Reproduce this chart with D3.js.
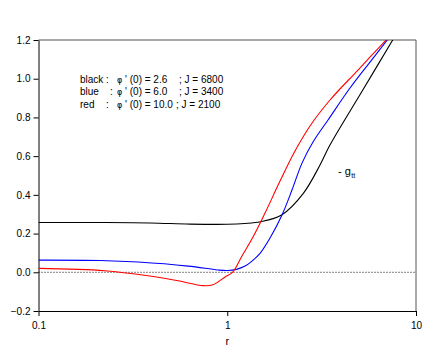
<!DOCTYPE html>
<html><head><meta charset="utf-8">
<script src="https://cdn.jsdelivr.net/npm/d3@7"></script>
<style>
body{margin:0;background:#fff;}
text{font-family:"Liberation Sans",Arial,sans-serif;}
</style></head>
<body><svg id="c" width="436" height="357"></svg>
<script>
// ---- data ----
const blackR = [0.1, 0.212, 0.39, 0.635, 1.0, 1.24, 1.50, 1.94, 2.53, 3.10, 3.50, 5.15, 7.58, 8.2];
const blackV = [0.257, 0.257, 0.255, 0.249, 0.248, 0.252, 0.261, 0.296, 0.408, 0.554, 0.657, 0.931, 1.205, 1.26];
const blueR = [0.1, 0.212, 0.337, 0.62, 0.89, 1.0, 1.12, 1.242, 1.352, 1.492, 1.685, 1.95, 2.203, 2.489, 2.847, 3.42, 4.47, 5.706, 7.107, 7.74];
const blueV = [0.063, 0.061, 0.053, 0.032, 0.012, 0.009, 0.015, 0.032, 0.058, 0.098, 0.177, 0.296, 0.425, 0.564, 0.673, 0.787, 0.952, 1.086, 1.205, 1.251];
const redR = [0.1, 0.224, 0.38, 0.548, 0.745, 0.83, 0.897, 0.973, 1.066, 1.197, 1.369, 1.585, 1.904, 2.285, 2.744, 3.503, 4.93, 7.02, 7.74];
const redV = [0.02, 0.008, -0.018, -0.044, -0.069, -0.066, -0.049, -0.024, 0.0, 0.084, 0.182, 0.306, 0.471, 0.626, 0.756, 0.890, 1.045, 1.205, 1.251];
const xTicks = [0.1, 1, 10];
const xTickLabels = ["0.1", "1", "10"];
const yTicks = [-0.2, 0.0, 0.2, 0.4, 0.6, 0.8, 1.0, 1.2];
const legendNames = ["black", "blue", "red"];
const legendPhi = ["2.6", "6.0", "10.0"];
const legendJ = ["6800", "3400", "2100"];

// ---- layout ----
const L = 38.5, R = 416, T = 40, B = 311;
const svg = d3.select("#c");
const x = d3.scaleLog().domain([0.1, 10]).range([L, R]);
const y = d3.scaleLinear().domain([-0.2, 1.2]).range([B, T]);

svg.append("defs").append("clipPath").attr("id", "clip")
  .append("rect").attr("x", L).attr("y", T).attr("width", R - L).attr("height", B - T);

// frame (top/right)
svg.append("line").attr("x1", L).attr("x2", R).attr("y1", T).attr("y2", T).attr("stroke", "#555").attr("stroke-width", 1);
svg.append("line").attr("x1", R).attr("x2", R).attr("y1", T).attr("y2", B).attr("stroke", "#555").attr("stroke-width", 1);

// zero line dotted
svg.append("line").attr("x1", L).attr("x2", R).attr("y1", y(0)).attr("y2", y(0))
  .attr("stroke", "#000").attr("stroke-width", 1).attr("stroke-dasharray", "1,2");

// axes
const yAxis = d3.axisLeft(y).tickValues(yTicks).tickFormat(d3.format(".1f")).tickSize(5).tickSizeOuter(0).tickPadding(3);
const gy = svg.append("g").attr("transform", `translate(${L},0)`).call(yAxis);
const xAxis = d3.axisBottom(x).tickValues(xTicks).tickFormat((d, i) => xTickLabels[i]).tickSize(5).tickSizeOuter(0).tickPadding(6);
const gx = svg.append("g").attr("transform", `translate(0,${B})`).call(xAxis);
[gx, gy].forEach(g => {
  g.selectAll("text").attr("font-size", "10px").attr("fill", "#000").attr("font-family", '"Liberation Sans",Arial,sans-serif');
  g.selectAll("line,path").attr("stroke", "#000");
});

// curves
const line = d3.line().x(d => x(d[0])).y(d => y(d[1])).curve(d3.curveCatmullRom.alpha(0.5));
const series = [
  {r: blackR, v: blackV, c: "#000000"},
  {r: blueR, v: blueV, c: "#0000ff"},
  {r: redR, v: redV, c: "#ff0000"}
];
const gc = svg.append("g").attr("clip-path", "url(#clip)");
series.forEach(s => {
  gc.append("path").datum(s.r.map((r, i) => [r, s.v[i]]))
    .attr("d", line).attr("fill", "none").attr("stroke", s.c).attr("stroke-width", 1.1);
});

// axis title
svg.append("text").attr("x", x(1)).attr("y", 345).attr("text-anchor", "middle")
  .attr("font-size", "11px").text("r");

// legend text
const lg = svg.append("g").attr("font-size", "10px");
const colonX = [106, 110, 106];
legendNames.forEach((n, i) => {
  const yy = 82.5 + i * 12.6;
  lg.append("text").attr("x", 80).attr("y", yy).text(n);
  lg.append("text").attr("x", colonX[i]).attr("y", yy).text(":");
  const t = lg.append("text").attr("x", 117).attr("y", yy);
  t.append("tspan").attr("font-family", '"DejaVu Sans",sans-serif').attr("font-size", "8px").text("\u03C6");
  t.append("tspan").text(" ' (0) = " + legendPhi[i]);
  lg.append("text").attr("x", i === 2 ? 176 : 179).attr("y", yy).text("; J = " + legendJ[i]);
});

// -g_tt label
const gl = svg.append("text").attr("x", 338).attr("y", 175).attr("font-size", "11px");
gl.append("tspan").text("- g");
gl.append("tspan").attr("font-size", "7px").attr("dy", 3).attr("dx", 0.5).text("tt");
</script></body></html>
